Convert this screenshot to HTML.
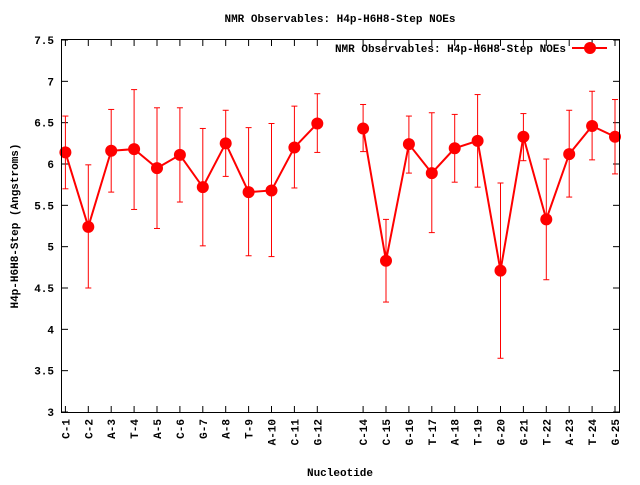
<!DOCTYPE html>
<html><head><meta charset="utf-8"><style>
body{margin:0;background:#fff;}
svg text{font-family:"Liberation Mono",monospace;font-weight:bold;font-size:11px;fill:#000;}
</style></head><body>
<svg id="chart" width="640" height="480" xmlns="http://www.w3.org/2000/svg">
<rect width="640" height="480" fill="#fff"/>
<text x="340" y="22" text-anchor="middle">NMR Observables: H4p-H6H8-Step NOEs</text>
<text transform="translate(18,226) rotate(-90)" text-anchor="middle">H4p-H6H8-Step (Angstroms)</text>
<text x="340" y="476" text-anchor="middle">Nucleotide</text>
<g id="axes"></g>
<g id="marks"></g>
<g>
<text x="566" y="52" text-anchor="end">NMR Observables: H4p-H6H8-Step NOEs</text>
<line x1="572" y1="48" x2="607" y2="48" stroke="#f00" stroke-width="2"/>
<circle cx="590" cy="48" r="6" fill="#f00"/>
</g>
<rect x="61.5" y="39.5" width="558" height="373" fill="none" stroke="#000" stroke-width="1"/>
</svg>
<script>
const categories=["C-1","C-2","A-3","T-4","A-5","C-6","G-7","A-8","T-9","A-10","C-11","G-12","","C-14","C-15","G-16","T-17","A-18","T-19","G-20","G-21","T-22","A-23","T-24","G-25"];
const values=[6.14,5.24,6.16,6.18,5.95,6.11,5.72,6.25,5.66,5.68,6.20,6.49,null,6.43,4.83,6.24,5.89,6.19,6.28,4.71,6.33,5.33,6.12,6.46,6.33];
const lowErr=[5.70,4.50,5.66,5.45,5.22,5.54,5.01,5.85,4.89,4.88,5.71,6.14,null,6.15,4.33,5.89,5.17,5.78,5.72,3.65,6.04,4.60,5.60,6.05,5.88];
const highErr=[6.58,5.99,6.66,6.90,6.68,6.68,6.43,6.65,6.44,6.49,6.70,6.85,null,6.72,5.33,6.58,6.62,6.60,6.84,5.77,6.61,6.06,6.65,6.88,6.78];
const yTicks=[3,3.5,4,4.5,5,5.5,6,6.5,7,7.5];
const yTickLabels=["3","3.5","4","4.5","5","5.5","6","6.5","7","7.5"];
const NS="http://www.w3.org/2000/svg";
function xs(i){return 65.4+i*22.9;}
function ys(v){return 412-(v-3)*(372/4.5);}
function mk(tag,attrs,parent){const e=document.createElementNS(NS,tag);for(const k in attrs)e.setAttribute(k,attrs[k]);parent.appendChild(e);return e;}
const axes=document.getElementById('axes'),marks=document.getElementById('marks');
yTicks.forEach((t,k)=>{
 const y=ys(t);
 let l=mk('line',{x1:62,x2:68,y1:y,y2:y,stroke:'#000'},axes);
 
 
 let r=mk('line',{x1:613,x2:619,y1:y,y2:y,stroke:'#000'},axes);
 
 
 let tx=mk('text',{x:54,y:y+4,'text-anchor':'end'},axes);
 tx.textContent=yTickLabels[k];
 
 
});
categories.forEach((c,i)=>{
 if(!c)return;
 const x=xs(i);
 let b=mk('line',{x1:x,x2:x,y1:406,y2:412,stroke:'#000'},axes);
 
 
 let t=mk('line',{x1:x,x2:x,y1:40,y2:46,stroke:'#000'},axes);
 
 
 let tx=mk('text',{transform:`translate(${x+4},419) rotate(-90)`,'text-anchor':'end'},axes);
 tx.textContent=c;
 
 
});
// lines (break at null)
let seg=[];
const segs=[];
values.forEach((v,i)=>{if(v==null){if(seg.length)segs.push(seg);seg=[];}else seg.push(xs(i)+','+ys(v));});
if(seg.length)segs.push(seg);
segs.forEach(s=>{
 let p=mk('polyline',{points:s.join(' '),fill:'none',stroke:'#f00','stroke-width':2},marks);
 
 
});
values.forEach((v,i)=>{
 if(v==null)return;
 const x=xs(i);
 let e=mk('line',{x1:x,x2:x,y1:ys(lowErr[i]),y2:ys(highErr[i]),stroke:'#f00'},marks);
 
 
 [lowErr[i],highErr[i]].forEach(w=>{
  let c=mk('line',{x1:x-3,x2:x+3,y1:ys(w),y2:ys(w),stroke:'#f00'},marks);
  
  
 });
 let p=mk('circle',{cx:x,cy:ys(v),r:6,fill:'#f00'},marks);
 
 
});
</script>
</body></html>
